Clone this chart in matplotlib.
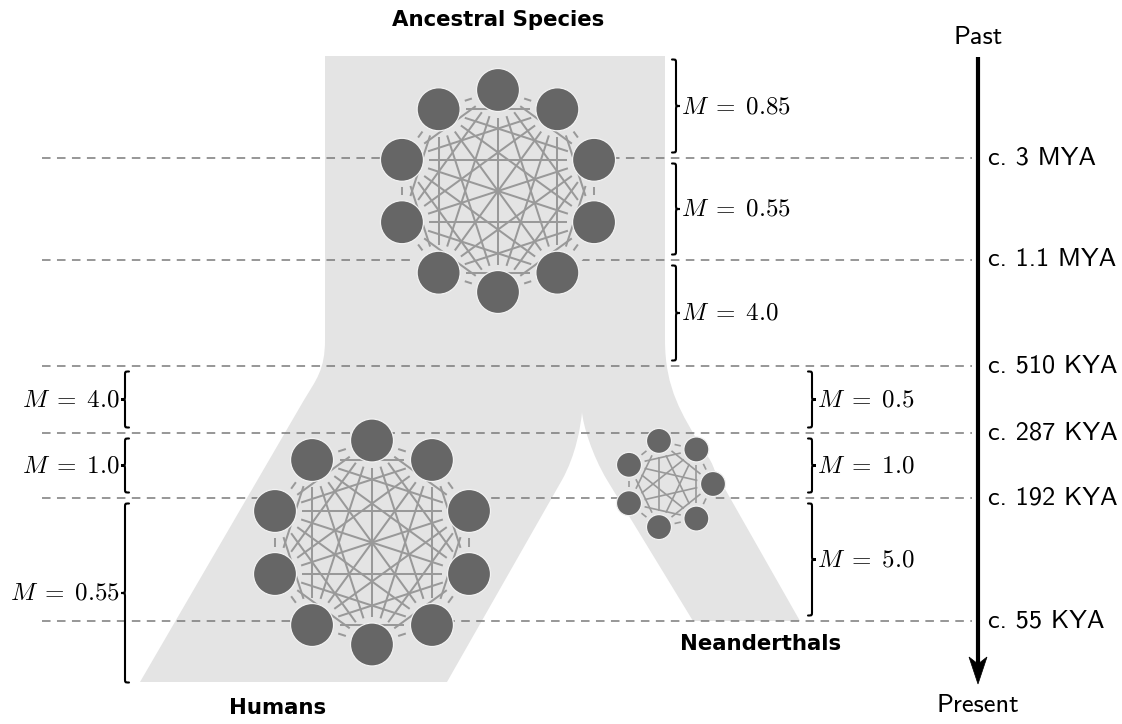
import numpy as np
import matplotlib
matplotlib.use("Agg")
import matplotlib.pyplot as plt
from matplotlib.path import Path
from matplotlib.patches import PathPatch, Circle, Polygon
from matplotlib.lines import Line2D

# ---------------- data ----------------
event_labels = ["c. 3 MYA", "c. 1.1 MYA", "c. 510 KYA", "c. 287 KYA", "c. 192 KYA", "c. 55 KYA"]
ancestral_M = [0.85, 0.55, 4.0]
human_M = [4.0, 1.0, 0.55]
neanderthal_M = [0.5, 1.0, 5.0]
ancestral_nodes = 10
human_nodes = 10
neanderthal_nodes = 7
population_labels = ["Ancestral Species", "Humans", "Neanderthals"]
axis_labels = ["Past", "Present"]

# ---------------- layout (pixel space) ----------------
W, H = 1122, 724
event_y = [158, 260, 366, 433, 498, 621]
anc_top, hum_bottom = 56, 682

plt.rcParams['mathtext.fontset'] = 'cm'
fig = plt.figure(figsize=(W / 100, H / 100), dpi=100)
ax = fig.add_axes([0, 0, 1, 1])
ax.set_xlim(0, W)
ax.set_ylim(H, 0)
ax.axis('off')

REGION = '#e4e4e4'
NODE = '#666666'
EDGE = '#999999'

# ---- tree-shaped population region ----
verts = [(325, anc_top), (665, anc_top), (665, 340),
         (665, 390), (683, 415), (700, 445),
         (800, 621), (693, 621), (607, 480),
         (592, 455), (583, 425), (582, 412),
         (581, 425), (576, 455), (562, 480),
         (447, hum_bottom), (140, hum_bottom), (304, 400),
         (316, 380), (325, 370), (325, 340),
         (325, anc_top)]
codes = [Path.MOVETO, Path.LINETO, Path.LINETO,
         Path.CURVE4, Path.CURVE4, Path.CURVE4,
         Path.LINETO, Path.LINETO, Path.LINETO,
         Path.CURVE4, Path.CURVE4, Path.CURVE4,
         Path.CURVE4, Path.CURVE4, Path.CURVE4,
         Path.LINETO, Path.LINETO, Path.LINETO,
         Path.CURVE4, Path.CURVE4, Path.CURVE4,
         Path.CLOSEPOLY]
ax.add_patch(PathPatch(Path(verts, codes), facecolor=REGION, edgecolor='none', zorder=1))

# ---- dashed event lines ----
for y in event_y:
    ax.add_line(Line2D([42, 972], [y, y], color='#7a7a7a', lw=1.1,
                       dashes=(5.6, 4.2), zorder=2))


# ---- networks ----
def network(cx, cy, R, n, rnode, start_deg, gap, lw):
    ang = np.deg2rad(start_deg + 360.0 / n * np.arange(n))
    px = cx + R * np.cos(ang)
    py = cy - R * np.sin(ang)
    ax.add_patch(Circle((cx, cy), R * 1.08, facecolor=REGION, edgecolor='none', zorder=3))
    for i in range(n):
        for j in range(i + 1, n):
            dx, dy = px[j] - px[i], py[j] - py[i]
            d = np.hypot(dx, dy)
            ux, uy = dx / d, dy / d
            s = rnode + gap
            if d > 2 * s:
                ax.add_line(Line2D([px[i] + ux * s, px[j] - ux * s],
                                   [py[i] + uy * s, py[j] - uy * s],
                                   color=EDGE, lw=lw, solid_capstyle='butt', zorder=4))
    for i in range(n):
        ax.add_patch(Circle((px[i], py[i]), rnode, facecolor=NODE,
                            edgecolor='#f2f2f2', lw=0.9, zorder=5))


network(498, 191, 101, ancestral_nodes, 21.5, 90, 6, 1.45)
network(372, 542.5, 102, human_nodes, 21.5, 90, 6, 1.45)
network(668.8, 484, 44.2, neanderthal_nodes, 12.5, 0, 3.5, 1.2)


# ---- braces ----
def brace(x, y0, y1, d, a=8, lw=1.5):
    ym = (y0 + y1) / 2
    h = a / 2
    v = [(x, y0), (x + d * h, y0), (x + d * h, y0), (x + d * h, y0 + h),
         (x + d * h, ym - h),
         (x + d * h, ym), (x + d * h, ym), (x + d * a, ym),
         (x + d * h, ym), (x + d * h, ym), (x + d * h, ym + h),
         (x + d * h, y1 - h),
         (x + d * h, y1), (x + d * h, y1), (x, y1)]
    c = [Path.MOVETO, Path.CURVE4, Path.CURVE4, Path.CURVE4, Path.LINETO,
         Path.CURVE4, Path.CURVE4, Path.CURVE4,
         Path.CURVE4, Path.CURVE4, Path.CURVE4, Path.LINETO,
         Path.CURVE4, Path.CURVE4, Path.CURVE4]
    ax.add_patch(PathPatch(Path(v, c), facecolor='none', edgecolor='black',
                           lw=lw, capstyle='round', zorder=6))


def mlabel(m):
    return r'$M\;=\;%s$' % m


MFS = 18
inset = 5.5
anc_bounds = [anc_top - 2, event_y[0], event_y[1], event_y[2]]
for k, m in enumerate(ancestral_M):
    y0, y1 = anc_bounds[k] + inset, anc_bounds[k + 1] - inset
    brace(672, y0, y1, +1)
    ax.text(681, (y0 + y1) / 2, mlabel(m), fontsize=MFS, ha='left', va='center', zorder=7)

hum_bounds = [event_y[2], event_y[3], event_y[4], hum_bottom + 6]
for k, m in enumerate(human_M):
    y0, y1 = hum_bounds[k] + inset, hum_bounds[k + 1] - inset
    brace(129, y0, y1, -1)
    ax.text(120, (y0 + y1) / 2, mlabel(m), fontsize=MFS, ha='right', va='center', zorder=7)

nea_bounds = [event_y[2], event_y[3], event_y[4], event_y[5]]
for k, m in enumerate(neanderthal_M):
    y0, y1 = nea_bounds[k] + inset, nea_bounds[k + 1] - inset
    brace(808, y0, y1, +1)
    ax.text(817, (y0 + y1) / 2, mlabel(m), fontsize=MFS, ha='left', va='center', zorder=7)

# ---- time arrow ----
AX = 978
ax.add_line(Line2D([AX, AX], [57, 668], color='black', lw=3.0, solid_capstyle='butt', zorder=6))
ax.add_patch(Polygon([(AX, 684), (AX - 9, 657), (AX, 664), (AX + 9, 657)], closed=True,
                     facecolor='black', edgecolor='black', lw=0.5, zorder=6))
SANS = 'cmss10'
TFS = 19
ax.text(AX, 37, axis_labels[0], fontsize=TFS, family=SANS, ha='center', va='center')
ax.text(AX, 706, axis_labels[1], fontsize=TFS, family=SANS, ha='center', va='center')
for lab, y in zip(event_labels, event_y):
    ax.text(988, y, lab, fontsize=TFS, family=SANS, ha='left', va='center')

# ---- population names ----
BFS = 15.3
ax.text(498, 20, population_labels[0], fontsize=BFS, fontweight='bold', ha='center', va='center')
ax.text(278, 708, population_labels[1], fontsize=BFS, fontweight='bold', ha='center', va='center')
ax.text(761, 644, population_labels[2], fontsize=BFS, fontweight='bold', ha='center', va='center')

fig.savefig('out.png', dpi=100)
